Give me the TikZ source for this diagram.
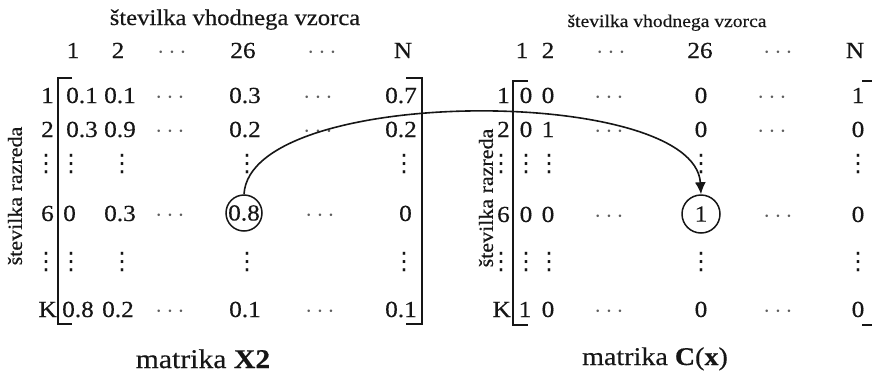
\documentclass[tikz,border=0pt]{standalone}
\usepackage{fontspec}
\setmainfont{Liberation Serif}[FakeStretch=1.1,FakeBold=0.4]
\newfontfamily\symfont{DejaVu Sans}
\usetikzlibrary{arrows.meta}
\definecolor{ink}{HTML}{161616}
\definecolor{dotgray}{HTML}{5E5E5E}
\newcommand{\vd}{{\symfont\fontsize{24}{24}\selectfont ⋮}}
\newcommand{\hd}{\textcolor{dotgray}{$\cdots$}}
\begin{document}
\begin{tikzpicture}[x=1pt,y=-1pt,
  font=\fontsize{23}{27}\selectfont,
  every node/.style={inner sep=0pt,text=ink},
  ent/.style={anchor=base},
  entl/.style={anchor=base west},
  entr/.style={anchor=base east},
  vdt/.style={anchor=center},
  brk/.style={line width=2.6pt,draw=ink,line join=miter},
  ring/.style={circle,draw=ink,line width=1.5pt,minimum size=#1,inner sep=0pt},
  ttl/.style={anchor=base,font=\fontsize{#1}{#1}\selectfont},
  captext/.style={anchor=base,font=\fontsize{#1}{30}\selectfont},
  side/.style={rotate=90,anchor=center,font=\fontsize{20}{24}\selectfont}]
\useasboundingbox (0,0) rectangle (872,378);
\clip (0,0) rectangle (872,378);

% ---------------- left matrix ----------------
\node[ttl=22.4] (Ltitle) at (235,25) {številka vhodnega vzorca};
\node[ent] (Lh1) at (73,58) {1};
\node[ent] (Lh2) at (118,58) {2};
\node[ent] (Lh3) at (172,58) {\hd};
\node[ent] (Lh4) at (243,58) {26};
\node[ent] (Lh5) at (322,58) {\hd};
\node[ent] (Lh6) at (403,58) {N};

\node[side] (Lside) at (15,196) {številka razreda};

\node[entr] (Lr1) at (54,103) {1};
\node[entr] (Lr2) at (54,137) {2};
\node[vdt] (Lr3) at (46,164) {\vd};
\node[entr] (Lr6) at (54,221) {6};
\node[vdt] (Lr5) at (46,262) {\vd};
\node[entr] (LrK) at (57,317) {K};

\draw[brk] (72,78) -- (58,78) -- (58,324) -- (72,324);
\draw[brk] (406,78) -- (422,78) -- (422,324) -- (406,324);

% row 1
\node[entl] (L11) at (66,103) {0.1};
\node[ent] (L12) at (120,103) {0.1};
\node[ent] (L13) at (170,103) {\hd};
\node[ent] (L14) at (245,103) {0.3};
\node[ent] (L15) at (318,103) {\hd};
\node[entr] (L16) at (417,103) {0.7};
% row 2
\node[entl] (L21) at (66,137) {0.3};
\node[ent] (L22) at (120,137) {0.9};
\node[ent] (L23) at (170,137) {\hd};
\node[ent] (L24) at (245,137) {0.2};
\node[ent] (L25) at (318,137) {\hd};
\node[entr] (L26) at (417,137) {0.2};
% vdots
\node[vdt] (L31) at (71,164) {\vd};
\node[vdt] (L32) at (122,164) {\vd};
\node[vdt] (L34) at (247,164) {\vd};
\node[vdt] (L36) at (404,164) {\vd};
% row 6
\node[entl] (L61) at (63,221) {0};
\node[ent] (L62) at (120,221) {0.3};
\node[ent] (L63) at (170,221) {\hd};
\node[ring=36pt] (L64) at (244,213) {0.8};
\node[ent] (L65) at (320,221) {\hd};
\node[entr] (L66) at (412,221) {0};
% vdots
\node[vdt] (L51) at (71,262) {\vd};
\node[vdt] (L52) at (122,262) {\vd};
\node[vdt] (L54) at (247,262) {\vd};
\node[vdt] (L56) at (404,262) {\vd};
% row K
\node[entl] (LK1) at (62,317) {0.8};
\node[ent] (LK2) at (118,317) {0.2};
\node[ent] (LK3) at (170,317) {\hd};
\node[ent] (LK4) at (245,317) {0.1};
\node[ent] (LK5) at (320,317) {\hd};
\node[entr] (LK6) at (417,317) {0.1};

\node[captext=27] (Lcap) at (203,368) {matrika \textbf{X2}};

% ---------------- right matrix ----------------
\node[ttl=17.8] (Rtitle) at (667,27) {številka vhodnega vzorca};
\node[ent] (Rh1) at (522,58) {1};
\node[ent] (Rh2) at (548,58) {2};
\node[ent] (Rh3) at (611,58) {\hd};
\node[ent] (Rh4) at (700,58) {26};
\node[ent] (Rh5) at (778,58) {\hd};
\node[ent] (Rh6) at (855,58) {N};

\node[side] (Rside) at (486,198) {številka razreda};

\node[entr] (Rr1) at (510,103) {1};
\node[entr] (Rr2) at (510,137) {2};
\node[vdt] (Rr3) at (501,164) {\vd};
\node[entr] (Rr6) at (510,222) {6};
\node[vdt] (Rr5) at (501,262) {\vd};
\node[entr] (RrK) at (511,317) {K};

\draw[brk] (528,81) -- (513,81) -- (513,325) -- (528,325);
\draw[brk] (862,81) -- (876,81) -- (876,325) -- (862,325);

% row 1
\node[ent] (R11) at (526,103) {0};
\node[ent] (R12) at (548,103) {0};
\node[ent] (R13) at (609,103) {\hd};
\node[ent] (R14) at (701,103) {0};
\node[ent] (R15) at (772,103) {\hd};
\node[ent] (R16) at (858,103) {1};
% row 2
\node[ent] (R21) at (526,137) {0};
\node[ent] (R22) at (548,137) {1};
\node[ent] (R23) at (609,137) {\hd};
\node[ent] (R24) at (701,137) {0};
\node[ent] (R25) at (772,137) {\hd};
\node[ent] (R26) at (858,137) {0};
% vdots
\node[vdt] (R31) at (526,164) {\vd};
\node[vdt] (R32) at (549,164) {\vd};
\node[vdt] (R34) at (701,164) {\vd};
\node[vdt] (R36) at (858,164) {\vd};
% row 6
\node[ent] (R61) at (526,222) {0};
\node[ent] (R62) at (548,222) {0};
\node[ent] (R63) at (609,222) {\hd};
\node[ring=38pt] (R64) at (701,214) {1};
\node[ent] (R65) at (778,222) {\hd};
\node[ent] (R66) at (858,222) {0};
% vdots
\node[vdt] (R51) at (526,262) {\vd};
\node[vdt] (R52) at (549,262) {\vd};
\node[vdt] (R54) at (701,262) {\vd};
\node[vdt] (R56) at (858,262) {\vd};
% row K
\node[ent] (RK1) at (525,317) {1};
\node[ent] (RK2) at (548,317) {0};
\node[ent] (RK3) at (609,317) {\hd};
\node[ent] (RK4) at (701,317) {0};
\node[ent] (RK5) at (778,317) {\hd};
\node[ent] (RK6) at (858,317) {0};

\node[captext=25.5] (Rcap) at (655,365) {matrika \textbf{C}(\textbf{x})};

% ---------------- connector ----------------
\draw[draw=ink,line width=1.6pt,-{Latex[length=12pt,width=11pt]}]
  (L64.north) .. controls (250,85) and (695,85) .. (R64.north);
\end{tikzpicture}
\end{document}
